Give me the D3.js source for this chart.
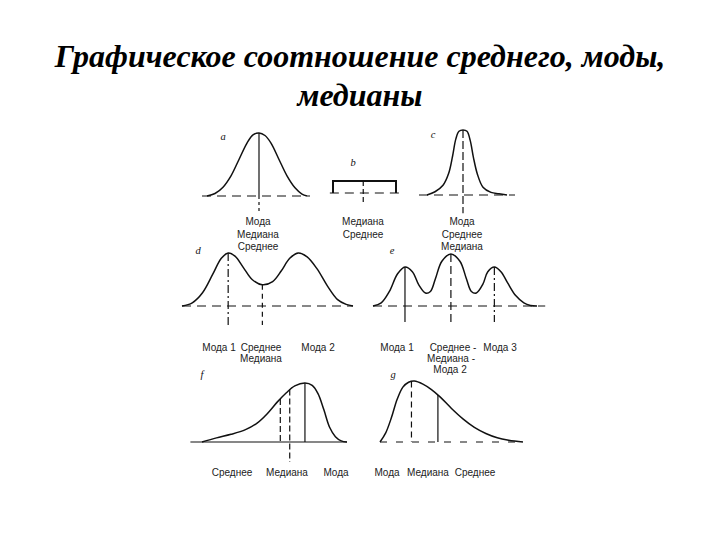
<!DOCTYPE html>
<html>
<head>
<meta charset="utf-8">
<script src="https://cdn.jsdelivr.net/npm/d3@7"></script>
<style>
  body { margin: 0; background: #fff; }
  .lbl { font-family: "Liberation Sans", Arial, sans-serif; font-size: 10px; fill: #222; }
  .tag { font-family: "Liberation Serif", serif; font-style: italic; font-size: 10.5px; fill: #111; }
</style>
</head>
<body>
<svg id="chart" width="720" height="540"></svg>
<script>
const titleLines = ['Графическое соотношение среднего, моды,', 'медианы'];

// curve shapes, [position 0..100, relative height 0..1]
const curveA = [[0,0],[8,0.04],[16,0.14],[24,0.32],[32,0.58],[40,0.84],[46,0.97],[52,1],[58,0.96],[64,0.84],[72,0.58],[80,0.32],[88,0.13],[95,0.03],[100,0]];
const curveB = [[0,0],[0,1],[100,1],[100,0]];
const curveC = [[0,0],[10,0.05],[20,0.15],[27,0.33],[32,0.6],[36,0.86],[40,0.98],[45,1],[50,0.98],[54,0.84],[58,0.58],[63,0.32],[70,0.12],[80,0.04],[90,0.02],[100,0]];
const curveD = [[0,0],[6,0.06],[12,0.25],[18,0.6],[23,0.9],[27,1],[31,0.94],[36,0.72],[41,0.5],[47,0.4],[53,0.46],[58,0.66],[63,0.9],[68,1],[73,0.93],[79,0.7],[85,0.38],[91,0.12],[96,0.03],[100,0]];
const curveE = [[0,0],[5,0.06],[10,0.28],[15,0.62],[19.5,0.75],[24,0.66],[28,0.4],[32,0.25],[35,0.28],[38,0.52],[42,0.86],[47.5,1],[53,0.86],[57,0.52],[60,0.28],[63,0.25],[67,0.42],[70,0.66],[74,0.75],[78,0.66],[82,0.45],[87,0.2],[92,0.06],[96,0.01],[100,0]];
const curveF = [[0,0],[10,0.07],[20,0.13],[30,0.21],[38,0.32],[45,0.48],[52,0.68],[58,0.83],[64,0.95],[71,1],[76,0.96],[80,0.82],[84,0.55],[88,0.25],[92,0.09],[96,0.02],[100,0]];
const curveG = [[0,0],[4,0.15],[8,0.4],[12,0.7],[16,0.9],[20,0.98],[24,1],[30,0.95],[36,0.86],[42,0.74],[50,0.55],[58,0.38],[66,0.24],[74,0.14],[82,0.07],[90,0.03],[100,0]];

// vertical markers: [position, top, bottom]
const markersA = [[52,1,0],[52,0,-0.27]];
const markersB = [[48,1,-1]];
const markersC = [[45,1,-0.28]];
const markersD = [[27,1,-0.36],[47,0.4,-0.36]];
const markersE = [[19.5,0.75,-0.31],[47.5,1,-0.31],[74,0.75,-0.31]];
const markersF = [[54,0.73,0],[60.5,0.89,-0.34],[71,1,0]];
const markersG = [[22,0.99,0],[40.5,0.77,0]];

const labelsA = ['Мода', 'Медиана', 'Среднее'];
const labelsB = ['Медиана', 'Среднее'];
const labelsC = ['Мода', 'Среднее', 'Медиана'];
const labelsD = ['Мода 1', 'Среднее', 'Мода 2', 'Медиана'];
const labelsE = ['Мода 1', 'Среднее -', 'Мода 3', 'Медиана -', 'Мода 2'];
const labelsF = ['Среднее', 'Медиана', 'Мода'];
const labelsG = ['Мода', 'Медиана', 'Среднее'];

const svg = d3.select('#chart');

svg.selectAll('text.title')
  .data(titleLines)
  .join('text')
  .attr('class', 'title')
  .attr('x', 360)
  .attr('y', (d, i) => 67 + i * 39)
  .attr('text-anchor', 'middle')
  .style('font-family', '"Liberation Serif", "Times New Roman", serif')
  .style('font-style', 'italic')
  .style('font-weight', 'bold')
  .style('font-size', '32px')
  .text(d => d);

const dash = '9,6', dashDot = '8,3,2,3';

const panels = [
  { tag: 'a', tagPos: [223, 140], x: [207, 307], y: [196, 133], curve: curveA, base: [-5, 103], baseDash: dash,
    markers: markersA, mDash: ['none', '3,3'], labels: labelsA,
    lpos: [[258, 225], [258, 237.5], [258, 250]] },
  { tag: 'b', tagPos: [353, 166], x: [333, 396], y: [193, 181], curve: curveB, base: [-5, 106], baseDash: dash,
    markers: markersB, mDash: ['5,3'], labels: labelsB, width: 2,
    lpos: [[363, 225], [363, 237.5]] },
  { tag: 'c', tagPos: [433, 138], x: [427, 507], y: [195, 130], curve: curveC, base: [-10, 110], baseDash: dash,
    markers: markersC, mDash: ['8,3'], labels: labelsC,
    lpos: [[462, 225], [462, 237.5], [462, 250]] },
  { tag: 'd', tagPos: [198, 254], x: [182, 353], y: [306, 253], curve: curveD, base: [0, 100], baseDash: dash,
    markers: markersD, mDash: [dashDot, '5,4'], labels: labelsD,
    lpos: [[219, 351], [261, 351], [318, 351], [261, 362]] },
  { tag: 'e', tagPos: [392, 254], x: [373, 537], y: [306, 254], curve: curveE, base: [0, 105], baseDash: dash,
    markers: markersE, mDash: ['none', '8,4', dashDot], labels: labelsE,
    lpos: [[397, 351], [453, 351], [500, 351], [451, 362], [450, 373]] },
  { tag: 'f', tagPos: [202, 378], x: [202, 347], y: [442, 383], curve: curveF, base: [-8, 100], baseDash: 'none',
    markers: markersF, mDash: ['6,3', '6,3', 'none'], labels: labelsF,
    lpos: [[232, 476], [287, 476], [336, 476]] },
  { tag: 'g', tagPos: [393, 378], x: [380, 523], y: [442, 381], curve: curveG, base: [0, 100], baseDash: '7,9',
    markers: markersG, mDash: ['6,4', 'none'], labels: labelsG,
    lpos: [[387, 476], [428, 476], [475, 476]] }
];

panels.forEach(p => {
  const xs = d3.scaleLinear().domain([0, 100]).range(p.x);
  const ys = d3.scaleLinear().domain([0, 1]).range(p.y);
  const g = svg.append('g');

  // baseline
  g.append('line')
    .attr('x1', xs(p.base[0])).attr('x2', xs(p.base[1]))
    .attr('y1', ys(0)).attr('y2', ys(0))
    .attr('stroke', '#111').attr('stroke-width', 1.2)
    .attr('stroke-dasharray', p.baseDash);

  // distribution curve
  const line = d3.line()
    .x(d => xs(d[0]))
    .y(d => ys(d[1]))
    .curve(p.tag === 'b' ? d3.curveLinear : d3.curveCatmullRom.alpha(0.5));
  g.append('path')
    .datum(p.curve)
    .attr('fill', 'none')
    .attr('stroke', '#111')
    .attr('stroke-width', p.width || 1.5)
    .attr('d', line);

  // mode / median / mean markers
  g.selectAll('line.m')
    .data(p.markers)
    .join('line')
    .attr('class', 'm')
    .attr('x1', d => xs(d[0])).attr('x2', d => xs(d[0]))
    .attr('y1', d => ys(d[1])).attr('y2', d => ys(d[2]))
    .attr('stroke', '#111').attr('stroke-width', 1.2)
    .attr('stroke-dasharray', (d, i) => p.mDash[i]);

  g.append('text')
    .attr('class', 'tag')
    .attr('x', p.tagPos[0]).attr('y', p.tagPos[1])
    .attr('text-anchor', 'middle')
    .text(p.tag);

  g.selectAll('text.lbl')
    .data(p.labels)
    .join('text')
    .attr('class', 'lbl')
    .attr('x', (d, i) => p.lpos[i][0])
    .attr('y', (d, i) => p.lpos[i][1])
    .attr('text-anchor', 'middle')
    .text(d => d);
});
</script>
</body>
</html>
